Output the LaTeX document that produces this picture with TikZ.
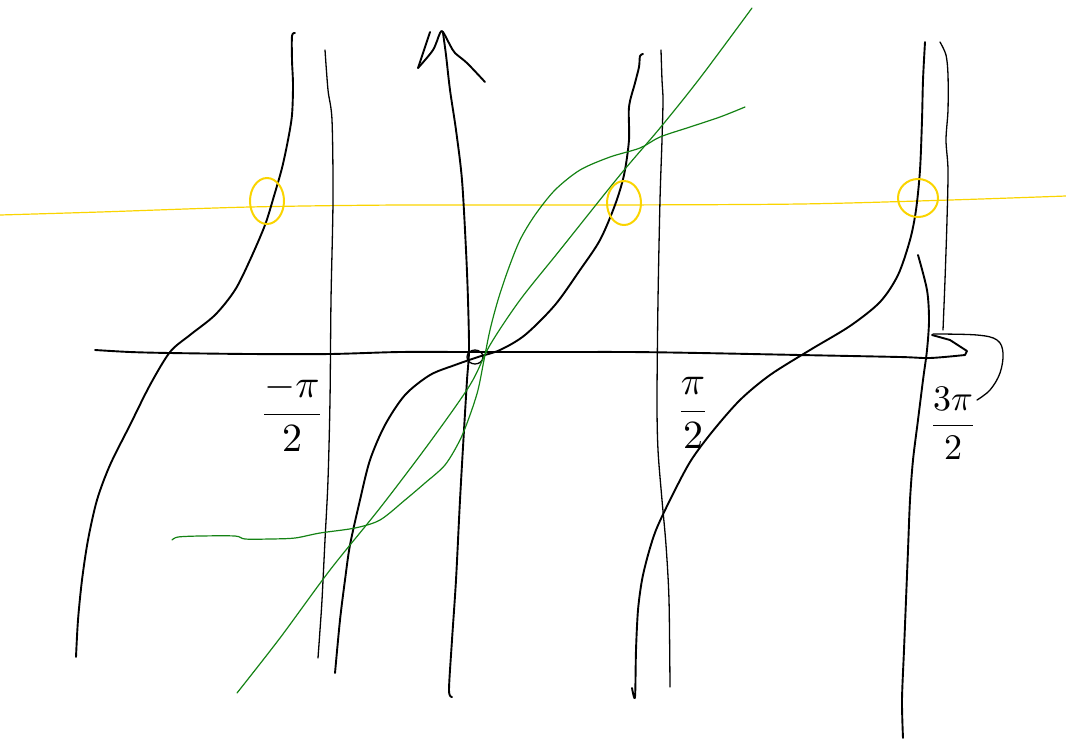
\documentclass[tikz,border=0pt]{standalone}
\begin{document}
\begin{tikzpicture}[x=1pt,y=-1pt,
  ink/.style={black,line width=1.9pt,line cap=round,line join=round},
  thinink/.style={black,line width=1.3pt,line cap=round,line join=round},
  grn/.style={draw={rgb,255:red,20;green,130;blue,20},line width=1.2pt,line cap=round},
  ylw/.style={draw={rgb,255:red,250;green,212;blue,0},line width=1.2pt,line cap=round},
  ylwc/.style={draw={rgb,255:red,250;green,212;blue,0},line width=2pt},
  lbl/.style={inner sep=0pt}]
\useasboundingbox (0,0) rectangle (1066,740);
% yellow horizontal line
\draw[ylw] plot[smooth,tension=0.5] coordinates {(0,215) (100,212) (250,207) (400,205) (600,205) (800,204) (950,200) (1066,196)};
% x-axis
\draw[ink] plot[smooth,tension=0.5] coordinates {(95,350) (130,352) (170,353) (250,354) (330,354) (400,352) (470,352) (550,352) (630,352) (700,353) (800,355) (900,357) (930,358) (965,355)};
\draw[ink] (965,355) -- (967,351) -- (950,340) -- (932,335);
\draw[thinink] plot[smooth,tension=0.6] coordinates {(933,334) (977,335) (997,340) (1003,353) (1000,373) (990,390) (977,400)};
% y-axis
\draw[ink] plot[smooth,tension=0.5] coordinates {(452,697) (449,690) (452,640) (456,580) (460,500) (464,430) (467,380) (469,350) (468,300) (466,250) (462,180) (456,130) (450,90) (446,55) (443,33)};
\draw[ink] (430,32) -- (418,68);
\draw[ink] plot[smooth,tension=0.5] coordinates {(418,68) (433,50) (440,33) (443,32) (450,45) (455,53) (467,63) (485,82)};
% asymptote -pi/2
\draw[thinink] plot[smooth,tension=0.5] coordinates {(325,50) (328,90) (332,120) (333,200) (331,300) (330,400) (328,480) (325,540) (322,600) (320,630) (318,658)};
% asymptote pi/2
\draw[thinink] plot[smooth,tension=0.5] coordinates {(661,50) (662,80) (663,100) (662,140) (660,200) (658,300) (657,400) (658,450) (662,500) (666,545) (669,600) (670,687)};
% thin line near 3pi/2
\draw[thinink] plot[smooth,tension=0.5] coordinates {(940,42) (946,55) (948,75) (948,110) (946,140) (948,170) (947,220) (945,280) (943,330)};
% branch A
\draw[ink] plot[smooth,tension=0.5] coordinates {(295,33) (292,36) (292,60) (293,85) (292,115) (288,140) (282,168) (274,196) (265,225) (250,260) (235,290) (215,315) (190,335) (170,352) (150,385) (130,425) (110,465) (97,500) (88,540) (82,580) (78,620) (76,657)};
% branch B
\draw[ink] plot[smooth,tension=0.5] coordinates {(335,673) (340,620) (345,580) (350,545) (360,500) (370,460) (385,425) (405,395) (430,375) (455,365) (478,357) (500,350) (525,335) (555,305) (580,270) (600,240) (615,205) (624,175) (629,140) (629,107) (635,83) (639,67) (640,56) (643,54)};
% branch C
\draw[ink] plot[smooth,tension=0.5] coordinates {(632,688) (635,697) (636,650) (638,610) (642,580) (648,555) (656,530) (670,500) (690,462) (712,432) (740,400) (770,375) (810,350) (850,326) (880,302) (898,275) (910,240) (916,210) (920,170) (922,120) (923,80) (925,42)};
% line through 3pi/2
\draw[ink] plot[smooth,tension=0.5] coordinates {(903,738) (902,700) (904,650) (906,600) (908,550) (910,500) (913,460) (918,420) (923,380) (927,350) (929,320) (927,290) (918,255)};
% origin circle
\draw[thinink] (475,357) ellipse [x radius=8,y radius=7];
% green straight line
\draw[grn] plot[smooth,tension=0.5] coordinates {(237,693) (280,638) (330,570) (380,508) (430,442) (470,385) (490,345) (520,300) (560,250) (620,175) (660,128) (700,78) (752,8)};
% green arctan-like curve
\draw[grn] plot[smooth,tension=0.5] coordinates {(172,540) (178,537) (200,536) (235,536) (245,539) (270,539) (295,538) (320,533) (355,528) (380,520) (405,500) (425,483) (445,465) (460,440) (470,415) (478,390) (484,360) (490,330) (498,300) (508,270) (520,240) (535,215) (555,190) (580,170) (610,157) (640,148) (660,137) (690,127) (720,117) (745,107)};
% yellow circles
\draw[ylwc] (267,201) ellipse [x radius=17,y radius=23];
\draw[ylwc] (624,203) ellipse [x radius=17,y radius=22];
\draw[ylwc] (918,198) ellipse [x radius=20,y radius=19];
% labels
\node[lbl] (lm) at (292,413) {\scalebox{4}{$\displaystyle\frac{-\pi}{2}$}};
\node[lbl] (lp) at (693,413) {\scalebox{4}{$\displaystyle\frac{\pi}{2}$}};
\node[lbl] (l3) at (953,423) {\scalebox{3.6}{$\displaystyle\frac{3\pi}{2}$}};
\end{tikzpicture}
\end{document}
